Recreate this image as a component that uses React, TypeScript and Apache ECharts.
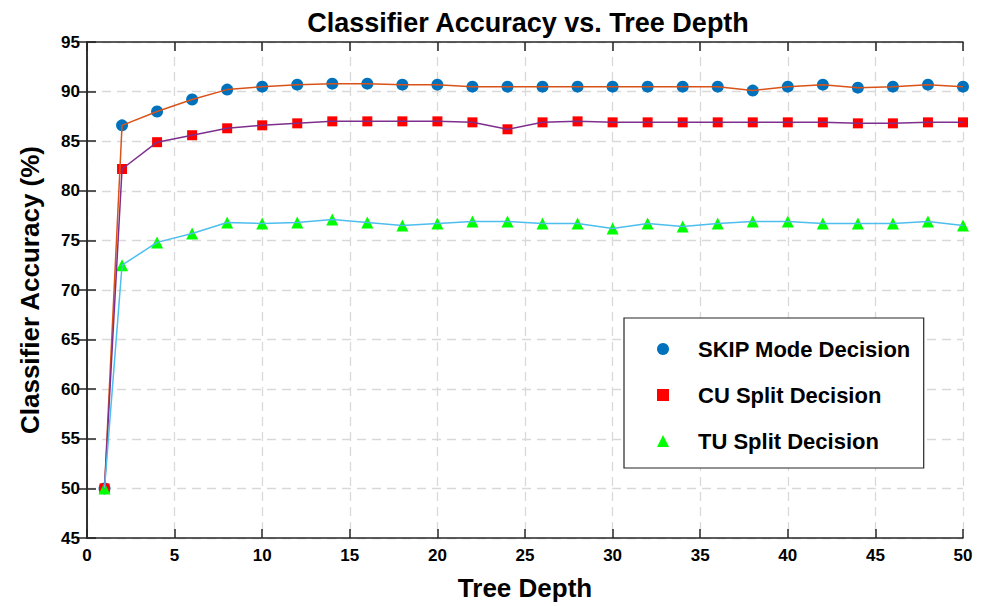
import React, { useEffect, useRef } from "react";
import * as echarts from "echarts";

const depths = [1, 2, 4, 6, 8, 10, 12, 14, 16, 18, 20, 22, 24, 26, 28, 30, 32, 34, 36, 38, 40, 42, 44, 46, 48, 50];
const skipAcc = [50, 86.6, 88.0, 89.2, 90.2, 90.5, 90.7, 90.8, 90.8, 90.7, 90.7, 90.5, 90.5, 90.5, 90.5, 90.5, 90.5, 90.5, 90.5, 90.1, 90.5, 90.7, 90.4, 90.5, 90.7, 90.5];
const cuAcc = [50, 82.2, 84.9, 85.6, 86.3, 86.6, 86.8, 87.0, 87.0, 87.0, 87.0, 86.9, 86.2, 86.9, 87.0, 86.9, 86.9, 86.9, 86.9, 86.9, 86.9, 86.9, 86.8, 86.8, 86.9, 86.9];
const tuAcc = [50, 72.5, 74.8, 75.7, 76.8, 76.7, 76.8, 77.1, 76.8, 76.5, 76.7, 76.9, 76.9, 76.7, 76.7, 76.2, 76.7, 76.4, 76.7, 76.9, 76.9, 76.7, 76.7, 76.7, 76.9, 76.5];
const seriesNames = ["SKIP Mode Decision", "CU Split Decision", "TU Split Decision"];

const FONT = "'Liberation Sans', Arial, Helvetica, sans-serif";

export default function App() {
  const ref = useRef<HTMLDivElement>(null);
  useEffect(() => {
    if (!ref.current) return;
    const chart = echarts.init(ref.current, null, { renderer: "svg" });
    const pair = (vals: number[]) => depths.map((d, i) => [d, vals[i]]);
    const axisLine = { show: true, lineStyle: { color: "#262626", width: 1.5 } };
    const tick = { show: true, inside: true, length: 9, lineStyle: { color: "#262626", width: 1.5 } };
    const grid = { show: true, lineStyle: { color: "#d9d9d9", type: [9, 6] as any, width: 1.3 } };
    const lbl = { color: "#000", fontWeight: "bold" as const, fontSize: 17, fontFamily: FONT };
    const lineSeries = (name: string, vals: number[], color: string) => ({
      name,
      type: "line",
      data: pair(vals),
      showSymbol: false,
      symbol: "none",
      lineStyle: { color, width: 1.5 },
      z: 3,
    });
    const scatterSeries = (name: string, vals: number[], color: string, symbol: string, size: number) => ({
      name,
      type: "scatter",
      data: pair(vals),
      symbol,
      symbolSize: size,
      itemStyle: { color, opacity: 1 },
      z: 2,
    });
    chart.setOption({
      animation: false,
      backgroundColor: "#fff",
      textStyle: { fontFamily: FONT },
      title: {
        text: "Classifier Accuracy vs. Tree Depth",
        left: 523,
        textAlign: "center",
        top: 4,
        textStyle: { color: "#000", fontWeight: "bold", fontSize: 27, fontFamily: FONT },
      },
      grid: { left: 87, right: 23, top: 42, bottom: 68 },
      xAxis: [
        {
          type: "value",
          min: 0,
          max: 50,
          interval: 5,
          name: "Tree Depth",
          nameLocation: "middle",
          nameGap: 37,
          nameTextStyle: { color: "#000", fontWeight: "bold", fontSize: 26, fontFamily: FONT },
          axisLine,
          axisTick: tick,
          axisLabel: { ...lbl, margin: 9 },
          splitLine: grid,
        },
        {
          type: "value",
          position: "top",
          min: 0,
          max: 50,
          interval: 5,
          axisLine,
          axisTick: tick,
          axisLabel: { show: false },
          splitLine: { show: false },
        },
      ],
      yAxis: [
        {
          type: "value",
          min: 45,
          max: 95,
          interval: 5,
          name: "Classifier Accuracy (%)",
          nameLocation: "middle",
          nameGap: 44,
          nameTextStyle: { color: "#000", fontWeight: "bold", fontSize: 26, fontFamily: FONT },
          axisLine,
          axisTick: tick,
          axisLabel: { ...lbl, margin: 7 },
          splitLine: grid,
        },
        {
          type: "value",
          position: "right",
          min: 45,
          max: 95,
          interval: 5,
          axisLine,
          axisTick: tick,
          axisLabel: { show: false },
          splitLine: { show: false },
        },
      ],
      legend: {
        data: seriesNames,
        orient: "vertical",
        left: 624,
        top: 318,
        padding: [19, 13, 15, 33],
        itemGap: 22,
        itemWidth: 12,
        itemHeight: 12,
        backgroundColor: "#fff",
        borderColor: "#262626",
        borderWidth: 1.2,
        textStyle: {
          color: "#000",
          fontWeight: "bold",
          fontSize: 22,
          fontFamily: FONT,
          lineHeight: 24,
          padding: [0, 0, 0, 24],
        },
      },
      series: [
        lineSeries("skipLine", skipAcc, "#D95319"),
        lineSeries("cuLine", cuAcc, "#7E2F8E"),
        lineSeries("tuLine", tuAcc, "#4DBEEE"),
        scatterSeries(seriesNames[0], skipAcc, "#0072BD", "circle", 12),
        scatterSeries(seriesNames[1], cuAcc, "#FF0000", "rect", 10),
        scatterSeries(seriesNames[2], tuAcc, "#00FF00", "triangle", 12),
      ],
    });
    return () => chart.dispose();
  }, []);
  return (
    <div
      ref={ref}
      style={{ position: "fixed", left: 0, top: 0, width: 986, height: 606, background: "#fff" }}
    />
  );
}
